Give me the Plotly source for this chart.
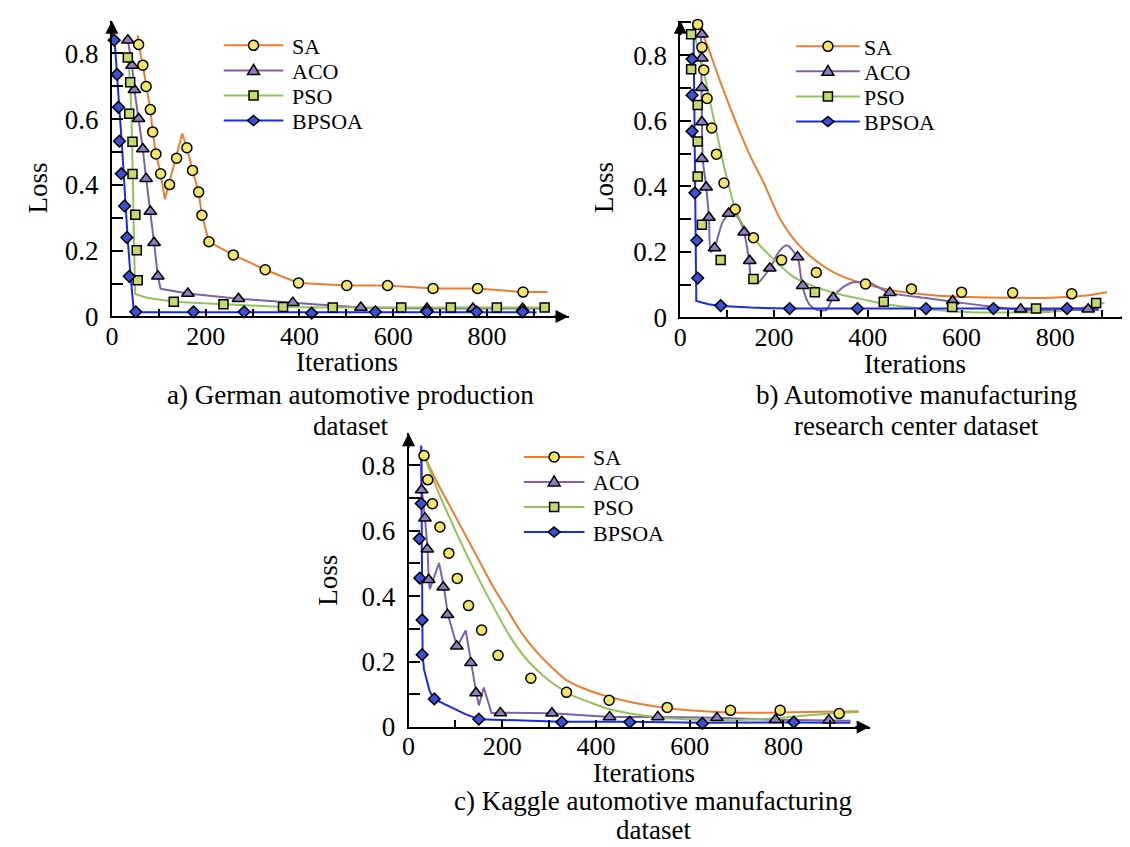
import plotly.graph_objects as go

W, H = 1130, 847
FONT = "Liberation Serif"

# ---------------- data ----------------
series_names = ["SA", "ACO", "PSO", "BPSOA"]
x_tick_vals = [0, 200, 400, 600, 800]
y_tick_vals = [0, 0.2, 0.4, 0.6, 0.8]
y_tick_text = ["0", "0.2", "0.4", "0.6", "0.8"]

# panel a) German automotive production dataset
a_sa_line_x = [55, 57, 66, 73, 82, 87, 94, 104, 113, 150, 160, 172, 185, 192, 207, 259, 327, 398, 501, 588, 685, 780, 877, 929]
a_sa_line_y = [0.855, 0.827, 0.764, 0.699, 0.629, 0.561, 0.494, 0.434, 0.356, 0.556, 0.513, 0.444, 0.378, 0.308, 0.227, 0.187, 0.142, 0.102, 0.094, 0.094, 0.085, 0.085, 0.074, 0.074]
a_sa_mark_x = [57, 66, 73, 82, 87, 94, 104, 123, 138, 160, 172, 185, 192, 207, 259, 327, 398, 501, 588, 685, 780, 877]
a_sa_mark_y = [0.827, 0.764, 0.699, 0.629, 0.561, 0.494, 0.434, 0.401, 0.481, 0.513, 0.444, 0.378, 0.308, 0.227, 0.187, 0.142, 0.102, 0.094, 0.094, 0.085, 0.085, 0.074]
a_aco_line_x = [33, 43, 48, 57, 66, 73, 82, 90, 98, 104, 162, 270, 386, 531, 672, 770, 876, 929]
a_aco_line_y = [0.85, 0.763, 0.689, 0.601, 0.509, 0.419, 0.319, 0.224, 0.122, 0.084, 0.070, 0.054, 0.042, 0.027, 0.024, 0.024, 0.024, 0.024]
a_aco_mark_x = [34, 43, 48, 57, 66, 73, 82, 90, 98, 162, 270, 386, 531, 672, 770, 876]
a_aco_mark_y = [0.840, 0.763, 0.689, 0.601, 0.509, 0.419, 0.319, 0.224, 0.122, 0.070, 0.054, 0.042, 0.027, 0.024, 0.024, 0.024]
a_pso_line_x = [34, 39, 42, 45, 47, 49.5, 75, 132, 238, 365, 471, 617, 723, 821, 923]
a_pso_line_y = [0.787, 0.712, 0.60, 0.40, 0.20, 0.068, 0.057, 0.045, 0.037, 0.029, 0.027, 0.027, 0.027, 0.027, 0.027]
a_pso_mark_x = [34, 39, 37, 44, 44, 50, 53, 55, 132, 238, 365, 471, 617, 723, 821, 923]
a_pso_mark_y = [0.787, 0.712, 0.616, 0.531, 0.433, 0.309, 0.201, 0.110, 0.045, 0.037, 0.029, 0.027, 0.027, 0.027, 0.027, 0.027]
a_bpsoa_line_x = [5, 10, 16, 21, 25, 30, 34, 40, 47, 53, 174, 282, 426, 562, 672, 778, 876, 906]
a_bpsoa_line_y = [0.855, 0.74, 0.63, 0.53, 0.43, 0.33, 0.23, 0.12, 0.013, 0.013, 0.013, 0.013, 0.011, 0.013, 0.013, 0.013, 0.013, 0.013]
a_bpsoa_mark_x = [5, 11, 14, 16, 20, 27, 32, 37, 51, 174, 282, 426, 562, 672, 778, 876]
a_bpsoa_mark_y = [0.840, 0.736, 0.636, 0.533, 0.434, 0.336, 0.240, 0.122, 0.014, 0.014, 0.014, 0.010, 0.014, 0.014, 0.014, 0.014]

# panel b) Automotive manufacturing research center dataset
b_sa_line_x = [40, 60, 85, 120, 150, 178, 213, 250, 290, 330, 390, 450, 545, 620, 690, 790, 860, 910]
b_sa_line_y = [0.89, 0.82, 0.72, 0.59, 0.49, 0.41, 0.30, 0.225, 0.172, 0.135, 0.103, 0.083, 0.067, 0.062, 0.060, 0.060, 0.066, 0.077]
b_sa_mark_x = [37, 46, 50, 57, 67, 77, 93, 117, 156, 216, 290, 395, 493, 600, 709, 835]
b_sa_mark_y = [0.894, 0.824, 0.755, 0.668, 0.578, 0.498, 0.410, 0.330, 0.243, 0.175, 0.137, 0.102, 0.087, 0.077, 0.075, 0.072]
b_aco_line_x = [44, 46, 48, 55, 61, 65, 73, 90, 110, 125, 136, 147, 152, 164, 191, 210, 227, 250, 260, 275, 291, 312, 325, 345, 369, 404, 447, 520, 581, 652, 724, 800, 872, 893]
b_aco_line_y = [0.89, 0.60, 0.48, 0.40, 0.305, 0.20, 0.213, 0.29, 0.325, 0.30, 0.26, 0.17, 0.11, 0.105, 0.150, 0.20, 0.22, 0.183, 0.097, 0.04, 0.023, 0.023, 0.060, 0.09, 0.107, 0.105, 0.075, 0.06, 0.048, 0.035, 0.023, 0.023, 0.023, 0.023]
b_aco_mark_x = [46, 46, 46, 46, 46, 55, 61, 73, 103, 136, 148, 191, 250, 261, 326, 447, 581, 726, 870]
b_aco_mark_y = [0.864, 0.791, 0.701, 0.596, 0.484, 0.397, 0.305, 0.212, 0.317, 0.260, 0.173, 0.150, 0.184, 0.097, 0.060, 0.075, 0.050, 0.025, 0.025]
b_pso_line_x = [28, 45, 72, 95, 120, 150, 190, 240, 275, 335, 390, 440, 545, 620, 690, 790, 850, 905]
b_pso_line_y = [0.87, 0.78, 0.60, 0.45, 0.32, 0.25, 0.19, 0.125, 0.10, 0.072, 0.055, 0.040, 0.023, 0.016, 0.015, 0.017, 0.028, 0.045]
b_pso_mark_x = [23, 23, 37, 37, 37, 46, 86, 156, 287, 434, 580, 759, 887]
b_pso_mark_y = [0.864, 0.757, 0.648, 0.537, 0.430, 0.283, 0.175, 0.117, 0.077, 0.048, 0.032, 0.027, 0.044]
b_bpsoa_line_x = [28, 30, 32, 34, 60, 86, 150, 231, 378, 523, 669, 825, 893]
b_bpsoa_line_y = [0.90, 0.60, 0.30, 0.05, 0.040, 0.035, 0.030, 0.027, 0.027, 0.027, 0.027, 0.027, 0.027]
b_bpsoa_mark_x = [25, 25, 25, 31, 35, 37, 86, 233, 378, 524, 668, 825]
b_bpsoa_mark_y = [0.788, 0.678, 0.568, 0.380, 0.235, 0.120, 0.036, 0.027, 0.027, 0.027, 0.027, 0.027]

# panel c) Kaggle automotive manufacturing dataset
c_sa_line_x = [33, 60, 90, 120, 150, 180, 210, 240, 270, 300, 335, 370, 400, 450, 492, 550, 598, 650, 704, 780, 852, 920, 960]
c_sa_line_y = [0.83, 0.75, 0.67, 0.59, 0.51, 0.43, 0.36, 0.29, 0.235, 0.19, 0.145, 0.12, 0.104, 0.084, 0.071, 0.058, 0.051, 0.047, 0.044, 0.044, 0.046, 0.047, 0.048]
c_sa_mark_x = [33, 41, 51, 67, 86, 104, 128, 156, 191, 261, 337, 428, 552, 687, 793, 919]
c_sa_mark_y = [0.829, 0.755, 0.682, 0.611, 0.531, 0.454, 0.371, 0.296, 0.219, 0.149, 0.106, 0.082, 0.060, 0.051, 0.051, 0.041]
c_aco_line_x = [27, 28.4, 35, 40.6, 43, 45.4, 65, 75.5, 83.6, 103.5, 122, 133, 144.4, 150, 160.5, 177, 196, 305, 431, 532, 658, 783, 897, 943]
c_aco_line_y = [0.857, 0.724, 0.638, 0.544, 0.449, 0.421, 0.501, 0.428, 0.345, 0.246, 0.295, 0.196, 0.105, 0.066, 0.121, 0.043, 0.044, 0.042, 0.031, 0.031, 0.028, 0.022, 0.021, 0.019]
c_aco_mark_x = [28, 35, 40, 43, 74, 83, 103, 133, 144, 196, 306, 429, 532, 658, 783, 897]
c_aco_mark_y = [0.724, 0.638, 0.543, 0.450, 0.427, 0.343, 0.247, 0.196, 0.104, 0.043, 0.042, 0.031, 0.031, 0.028, 0.022, 0.021]
c_pso_line_x = [33, 60, 100, 140, 180, 215, 250, 285, 315, 350, 386, 420, 456, 510, 562, 620, 668, 720, 774, 852, 910, 960]
c_pso_line_y = [0.83, 0.73, 0.60, 0.48, 0.37, 0.28, 0.21, 0.16, 0.126, 0.096, 0.076, 0.058, 0.046, 0.034, 0.026, 0.022, 0.021, 0.022, 0.026, 0.036, 0.042, 0.046]
c_pso_mark_x = []
c_pso_mark_y = []
c_bpsoa_line_x = [27, 28, 30, 33, 45, 54, 70, 90, 120, 150, 250, 327, 471, 627, 823, 943]
c_bpsoa_line_y = [0.86, 0.55, 0.221, 0.176, 0.11, 0.086, 0.075, 0.062, 0.04, 0.024, 0.019, 0.016, 0.016, 0.013, 0.014, 0.013]
c_bpsoa_mark_x = [27, 23, 24, 29, 29, 55, 150, 327, 472, 627, 822]
c_bpsoa_mark_y = [0.683, 0.575, 0.455, 0.327, 0.221, 0.086, 0.024, 0.015, 0.015, 0.011, 0.015]

captions_line1 = ["a) German automotive production", "b) Automotive manufacturing", "c) Kaggle automotive manufacturing"]
captions_line2 = ["dataset", "research center dataset", "dataset"]

# ---------------- styles ----------------
line_colors = ["#ED7D31", "#7E62A8", "#93C25A", "#1A2BE6"]
marker_fills = ["#F2E66A", "#8C7FC0", "#C6DA6C", "#3C4FD6"]
marker_symbols = ["circle", "triangle-up", "square", "diamond"]
marker_sizes = [10, 11, 9, 9]


def X(px):
    return px / W


def Y(py):
    return 1 - py / H


panels = [
    dict(ax="", data=[(a_sa_line_x, a_sa_line_y, a_sa_mark_x, a_sa_mark_y),
                      (a_aco_line_x, a_aco_line_y, a_aco_mark_x, a_aco_mark_y),
                      (a_pso_line_x, a_pso_line_y, a_pso_mark_x, a_pso_mark_y),
                      (a_bpsoa_line_x, a_bpsoa_line_y, a_bpsoa_mark_x, a_bpsoa_mark_y)],
         shapes=["linear", "linear", "linear", "linear"],
         xpx=(97.5, 557), ypx=(314, 13), xmax=974, ymax=0.899,
         leg=(210, 270, 278, [38, 63.5, 89, 114.5]),
         loss=(23, 183), iters=(334, 360.5), cap=(338, 394, 426)),
    dict(ax="2", data=[(b_sa_line_x, b_sa_line_y, b_sa_mark_x, b_sa_mark_y),
                       (b_aco_line_x, b_aco_line_y, b_aco_mark_x, b_aco_mark_y),
                       (b_pso_line_x, b_pso_line_y, b_pso_mark_x, b_pso_mark_y),
                       (b_bpsoa_line_x, b_bpsoa_line_y, b_bpsoa_mark_x, b_bpsoa_mark_y)],
         shapes=["spline", "spline", "spline", "linear"],
         xpx=(669.5, 1127), ypx=(315, 13), xmax=970, ymax=0.905,
         leg=(786, 850, 853, [39, 64.5, 90, 115.5]),
         loss=(592, 183), iters=(906, 362), cap=(907, 394, 426)),
    dict(ax="3", data=[(c_sa_line_x, c_sa_line_y, c_sa_mark_x, c_sa_mark_y),
                       (c_aco_line_x, c_aco_line_y, c_aco_mark_x, c_aco_mark_y),
                       (c_pso_line_x, c_pso_line_y, c_pso_mark_x, c_pso_mark_y),
                       (c_bpsoa_line_x, c_bpsoa_line_y, c_bpsoa_mark_x, c_bpsoa_mark_y)],
         shapes=["spline", "linear", "spline", "linear"],
         xpx=(396, 860), ypx=(732, 433), xmax=984, ymax=0.897,
         leg=(512, 573, 581, [457, 482.5, 508, 533.5]),
         loss=(315, 583), iters=(633, 778.5), cap=(642, 807, 837)),
]

fig = go.Figure()
layout = dict(width=W, height=H, margin=dict(l=0, r=0, t=0, b=0),
              paper_bgcolor="white", plot_bgcolor="white", showlegend=False,
              font=dict(family=FONT, size=27, color="black"))
shapes = []
annotations = []


def txt(size=27):
    return dict(family=FONT, size=size, color="black")


for p in panels:
    xa, ya = "x" + p["ax"], "y" + p["ax"]
    # lines first
    for i, (lx, ly, mx, my) in enumerate(p["data"]):
        fig.add_trace(go.Scatter(x=lx, y=ly, mode="lines", name=series_names[i],
                                 xaxis=xa, yaxis=ya, cliponaxis=False,
                                 line=dict(color=line_colors[i], width=2,
                                           shape=p["shapes"][i], smoothing=0.7),
                                 hoverinfo="skip"))
    for i, (lx, ly, mx, my) in enumerate(p["data"]):
        if len(mx) == 0:
            continue
        fig.add_trace(go.Scatter(x=mx, y=my, mode="markers", name=series_names[i],
                                 xaxis=xa, yaxis=ya, cliponaxis=False,
                                 marker=dict(symbol=marker_symbols[i], size=marker_sizes[i],
                                             color=marker_fills[i],
                                             line=dict(color="black", width=1.5))))
    xkey = "xaxis" + p["ax"]
    ykey = "yaxis" + p["ax"]
    layout[xkey] = dict(domain=[X(p["xpx"][0]), X(p["xpx"][1])], range=[0, p["xmax"]],
                        anchor=ya, showgrid=False, zeroline=False, showline=True,
                        linecolor="black", linewidth=2,
                        tickvals=x_tick_vals, ticks="inside", ticklen=7, tickwidth=2,
                        tickcolor="black", tickfont=txt(26), ticklabelstandoff=-5,
                        minor=dict(dtick=100, tick0=0, ticks="inside", ticklen=7,
                                   tickwidth=2, tickcolor="black"))
    layout[ykey] = dict(domain=[Y(p["ypx"][0]), Y(p["ypx"][1])], range=[0, p["ymax"]],
                        anchor=xa, showgrid=False, zeroline=False, showline=True,
                        linecolor="black", linewidth=2,
                        tickvals=y_tick_vals, ticktext=y_tick_text, ticks="inside",
                        ticklen=11, tickwidth=2, tickcolor="black", tickfont=txt(27),
                        ticklabelstandoff=6,
                        minor=dict(dtick=0.1, tick0=0, ticks="inside", ticklen=11,
                                   tickwidth=2, tickcolor="black"))
    # axis arrowheads
    annotations.append(dict(x=p["xmax"], y=0, xref=xa, yref=ya, text="", showarrow=True,
                            ax=-16, ay=0, arrowhead=2, arrowsize=1.3, arrowwidth=2,
                            arrowcolor="black", standoff=0))
    annotations.append(dict(x=0, y=p["ymax"], xref=xa, yref=ya, text="", showarrow=True,
                            ax=0, ay=16, arrowhead=2, arrowsize=1.3, arrowwidth=2,
                            arrowcolor="black", standoff=0))
    # axis titles
    annotations.append(dict(x=X(p["loss"][0]), y=Y(p["loss"][1]), xref="paper", yref="paper",
                            text="Loss", textangle=-90, showarrow=False, font=txt(27),
                            xanchor="center", yanchor="middle"))
    annotations.append(dict(x=X(p["iters"][0]), y=Y(p["iters"][1]), xref="paper", yref="paper",
                            text="Iterations", showarrow=False, font=txt(27),
                            xanchor="center", yanchor="middle"))
    # manual legend
    xl0, xl1, xt, rows = p["leg"]
    xm = (xl0 + xl1) / 2
    for i, name in enumerate(series_names):
        ry = rows[i]
        shapes.append(dict(type="line", xref="paper", yref="paper", x0=X(xl0), x1=X(xl1),
                           y0=Y(ry), y1=Y(ry), line=dict(color=line_colors[i], width=2)))
        base = dict(xref="paper", yref="paper", xsizemode="pixel", ysizemode="pixel",
                    xanchor=X(xm), yanchor=Y(ry), fillcolor=marker_fills[i],
                    line=dict(color="black", width=1.5))
        if marker_symbols[i] == "circle":
            shapes.append(dict(type="circle", x0=-5, x1=5, y0=-5, y1=5, **base))
        elif marker_symbols[i] == "square":
            shapes.append(dict(type="rect", x0=-4.5, x1=4.5, y0=-4.5, y1=4.5, **base))
        elif marker_symbols[i] == "triangle-up":
            shapes.append(dict(type="path", path="M-6,-4L6,-4L0,6Z", **base))
        else:
            shapes.append(dict(type="path", path="M0,5L6,0L0,-5L-6,0Z", **base))
        annotations.append(dict(x=X(xt), y=Y(ry + 1), xref="paper", yref="paper", text=name,
                                showarrow=False, font=txt(22), xanchor="left", yanchor="middle",
                                borderpad=0))

for k, p in enumerate(panels):
    cx, cy1, cy2 = p["cap"]
    annotations.append(dict(x=X(cx), y=Y(cy1), xref="paper", yref="paper",
                            text=captions_line1[k], showarrow=False, font=txt(27),
                            xanchor="center", yanchor="middle"))
    annotations.append(dict(x=X(cx), y=Y(cy2), xref="paper", yref="paper",
                            text=captions_line2[k], showarrow=False, font=txt(27),
                            xanchor="center", yanchor="middle"))

layout["shapes"] = shapes
layout["annotations"] = annotations
fig.update_layout(**layout)
fig.write_html("out.html")
